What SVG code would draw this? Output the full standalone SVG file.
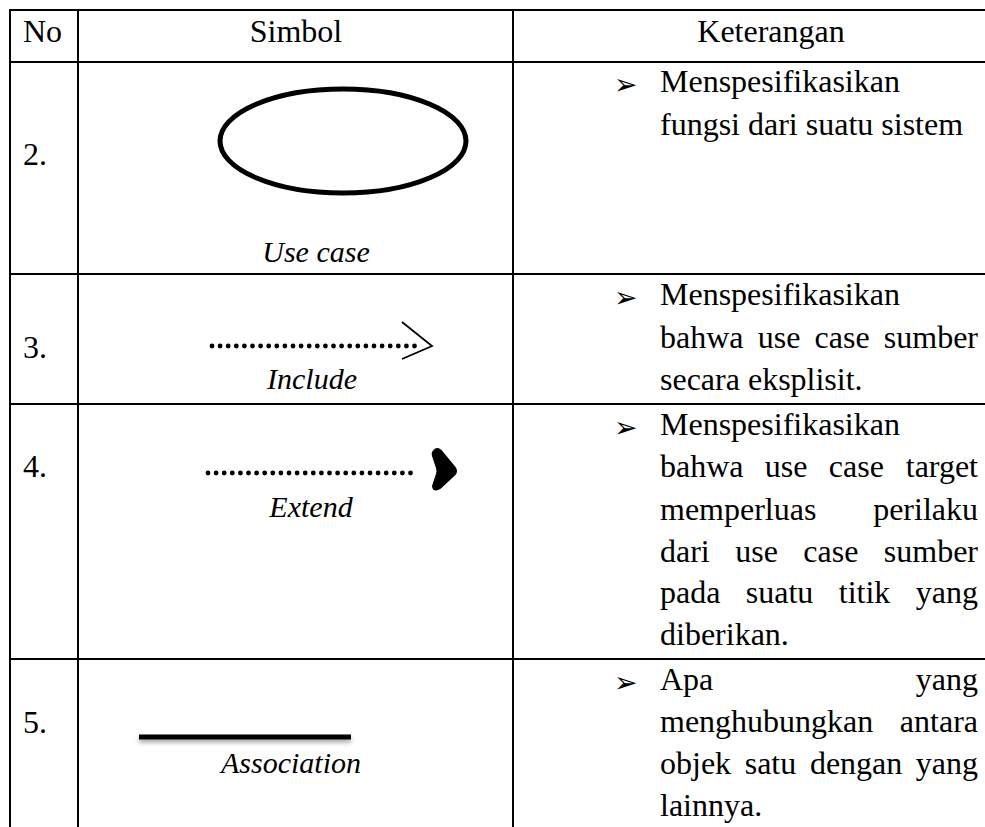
<svg xmlns="http://www.w3.org/2000/svg" width="985" height="827" viewBox="0 0 985 827">
<style>
.grid{stroke:#000;stroke-width:2;fill:none}
.t{font-family:"Liberation Serif","Times New Roman",serif;font-size:32px;fill:#000}
.i{font-family:"Liberation Serif","Times New Roman",serif;font-size:30px;font-style:italic;fill:#000;text-anchor:middle}
.c{text-anchor:middle}
.e{text-anchor:end}
.b{font-family:"DejaVu Sans",sans-serif;font-size:28px;fill:#000}
.dots{stroke:#000;stroke-width:4.8;stroke-linecap:round;stroke-dasharray:0 8.1;fill:none}
</style>
<defs>
<filter id="sh" filterUnits="userSpaceOnUse" x="120" y="720" width="250" height="40">
<feDropShadow dx="0" dy="3" stdDeviation="2" flood-color="#000" flood-opacity="0.35"/>
</filter>
</defs>
<rect width="985" height="827" fill="#fff"/>
<g id="grid">
<line class="grid" x1="10" y1="10" x2="985" y2="10"/>
<line class="grid" x1="10" y1="62" x2="985" y2="62"/>
<line class="grid" x1="10" y1="274" x2="985" y2="274"/>
<line class="grid" x1="10" y1="404" x2="985" y2="404"/>
<line class="grid" x1="10" y1="659" x2="985" y2="659"/>
<line class="grid" x1="10" y1="9" x2="10" y2="827"/>
<line class="grid" x1="78" y1="9" x2="78" y2="827"/>
<line class="grid" x1="513" y1="9" x2="513" y2="827"/>
</g>
<g id="header">
<text class="t" x="23" y="42">No</text>
<text class="t c" x="296" y="42">Simbol</text>
<text class="t c" x="771" y="42">Keterangan</text>
</g>
<g id="row-usecase">
<text class="t" x="23" y="165">2.</text>
<ellipse cx="343" cy="141" rx="123" ry="52" fill="none" stroke="#000" stroke-width="5"/>
<text class="i" x="316" y="262">Use case</text>
<text class="b" x="614" y="94">➢</text>
<text class="t" x="660" y="92">Menspesifikasikan</text>
<text class="t" x="660" y="135">fungsi dari suatu sistem</text>
</g>
<g id="row-include">
<text class="t" x="23" y="358">3.</text>
<line class="dots" x1="212" y1="346" x2="415" y2="346"/>
<polyline points="402,322 432,346 402,359" fill="none" stroke="#000" stroke-width="1.8"/>
<text class="i" x="312" y="389">Include</text>
<text class="b" x="614" y="307">➢</text>
<text class="t" x="660" y="305">Menspesifikasikan</text>
<text class="t" y="348"><tspan x="660">bahwa</tspan><tspan x="757.7">use</tspan><tspan x="814.6">case</tspan><tspan x="978" text-anchor="end">sumber</tspan></text>
<text class="t" x="660" y="390">secara eksplisit.</text>
</g>
<g id="row-extend">
<text class="t" x="23" y="477">4.</text>
<line class="dots" x1="208" y1="473" x2="418" y2="473"/>
<path d="M434,451 Q437,447 441,451 L455,468 Q457,471 455,474 L440,488 Q434,492 433,486 L437,474 Q438,471 437,468 L433,456 Q432,453 434,451 Z" fill="#000" stroke="#000" stroke-width="2" stroke-linejoin="round"/>
<text class="i" x="311" y="517">Extend</text>
<text class="b" x="614" y="437">➢</text>
<text class="t" x="660" y="435">Menspesifikasikan</text>
<text class="t" y="477"><tspan x="660">bahwa</tspan><tspan x="764.8">use</tspan><tspan x="828.8">case</tspan><tspan x="978" text-anchor="end">target</tspan></text>
<text class="t" y="520"><tspan x="660">memperluas</tspan><tspan x="978" text-anchor="end">perilaku</tspan></text>
<text class="t" y="562"><tspan x="660">dari</tspan><tspan x="735.2">use</tspan><tspan x="803.3">case</tspan><tspan x="978" text-anchor="end">sumber</tspan></text>
<text class="t" y="603"><tspan x="660">pada</tspan><tspan x="745.8">suatu</tspan><tspan x="838.8">titik</tspan><tspan x="978" text-anchor="end">yang</tspan></text>
<text class="t" x="660" y="645">diberikan.</text>
</g>
<g id="row-association">
<text class="t" x="23" y="733">5.</text>
<rect x="139" y="734.5" width="212" height="5" fill="#000" filter="url(#sh)"/>
<text class="i" x="291" y="773">Association</text>
<text class="b" x="614" y="692">➢</text>
<text class="t" y="690"><tspan x="660">Apa</tspan><tspan x="978" text-anchor="end">yang</tspan></text>
<text class="t" y="732"><tspan x="660">menghubungkan</tspan><tspan x="978" text-anchor="end">antara</tspan></text>
<text class="t" y="774"><tspan x="660">objek</tspan><tspan x="744.7">satu</tspan><tspan x="809.9">dengan</tspan><tspan x="978" text-anchor="end">yang</tspan></text>
<text class="t" x="660" y="816">lainnya.</text>
</g>
</svg>
